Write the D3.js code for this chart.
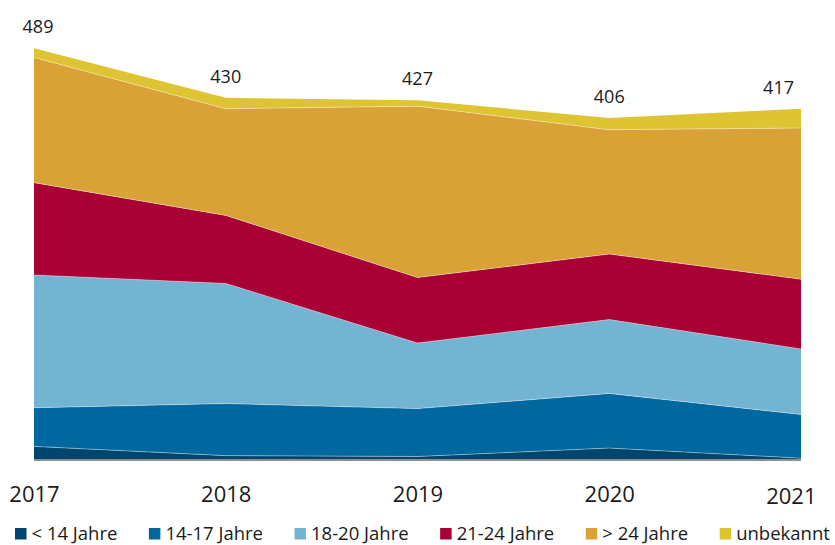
<!DOCTYPE html>
<html>
<head>
<meta charset="utf-8">
<script src="https://cdn.jsdelivr.net/npm/d3@7"></script>
<style>
  body { margin: 0; background: #fff; }
  svg { font-family: "Open Sans", "Noto Sans", sans-serif; }
</style>
</head>
<body>
<div id="chart"></div>
<script>
// data
const years = ['2017', '2018', '2019', '2020', '2021'];
const groups = ['< 14 Jahre', '14-17 Jahre', '18-20 Jahre', '21-24 Jahre', '> 24 Jahre', 'unbekannt'];
const under14 = [15, 4, 3, 13, 1];
const age14to17 = [46, 62, 57, 65, 52];
const age18to20 = [158, 143, 78, 88, 78];
const age21to24 = [110, 81, 78, 78, 83];
const over24 = [149, 127, 204, 148, 180];
const unknown = [11, 13, 7, 14, 23];
const totals = [489, 430, 427, 406, 417];
const colors = ['#00456e', '#00689f', '#72b4d1', '#a90035', '#d9a236', '#dec432'];

const seriesValues = [under14, age14to17, age18to20, age21to24, over24, unknown];

const width = 835, height = 545;
const svg = d3.select('#chart').append('svg')
  .attr('width', width).attr('height', height);

let rows = years.map((y, i) => {
  let r = { year: y };
  groups.forEach((g, k) => { r[g] = seriesValues[k][i]; });
  return r;
});

let x = d3.scalePoint().domain(years).range([34, 801]);
let y = d3.scaleLinear().domain([0, 500]).range([459, 39]);

let stack = d3.stack().keys(groups);
let layers = stack(rows);

let area = d3.area()
  .x(d => x(d.data.year))
  .y0(d => y(d[0]))
  .y1(d => y(d[1]));

svg.append('g').selectAll('path')
  .data(layers)
  .enter().append('path')
  .attr('d', area)
  .attr('fill', (d, i) => colors[i]);

// thin light seams between the bands
let seam = d3.line().x(d => x(d.data.year)).y(d => y(d[1]));
svg.append('g').selectAll('path')
  .data(layers.slice(0, 5))
  .enter().append('path')
  .attr('d', seam)
  .attr('fill', 'none')
  .attr('stroke', '#fff')
  .attr('stroke-opacity', 0.55)
  .attr('stroke-width', 0.7);

// baseline
svg.append('line')
  .attr('x1', x(years[0])).attr('x2', x(years[years.length - 1]))
  .attr('y1', y(0) + 1).attr('y2', y(0) + 1)
  .attr('stroke', '#8f8f8f').attr('stroke-width', 2);

// totals above the stack
svg.append('g').selectAll('text')
  .data(totals)
  .enter().append('text')
  .attr('x', (d, i) => x(years[i]) + (i == 0 ? 4 : (i == years.length - 1 ? -7 : 0)))
  .attr('y', d => y(d) - 15)
  .attr('text-anchor', (d, i) => i == years.length - 1 ? 'end' : 'middle')
  .attr('font-size', 18)
  .attr('fill', '#1a1a1a')
  .text(d => d);

// x axis labels
let xAxis = d3.axisBottom(x).tickSize(0).tickPadding(0);
let ax = svg.append('g')
  .attr('transform', 'translate(0,' + 486 + ')')
  .call(xAxis);
ax.select('.domain').remove();
ax.selectAll('text')
  .attr('font-size', 22)
  .attr('font-family', '"Open Sans", "Noto Sans", sans-serif')
  .attr('fill', '#1a1a1a')
  .attr('dy', '0.71em');
ax.selectAll('.tick').filter(d => d == '2021')
  .select('text').attr('text-anchor', 'end').attr('x', 15).attr('y', 2);

// legend
let legend = svg.append('g').attr('transform', 'translate(15,540)');
let lx = 0;
groups.forEach((g, i) => {
  let item = legend.append('g').attr('transform', 'translate(' + lx + ',0)');
  item.append('rect')
    .attr('x', 0).attr('y', -12)
    .attr('width', 11.5).attr('height', 11.5)
    .attr('fill', colors[i]);
  let t = item.append('text')
    .attr('x', 16.5).attr('y', 0)
    .attr('font-size', 18.5)
    .attr('fill', '#1a1a1a')
    .text(g);
  lx += 16.5 + t.node().getComputedTextLength() + 31.5;
});
</script>
</body>
</html>
